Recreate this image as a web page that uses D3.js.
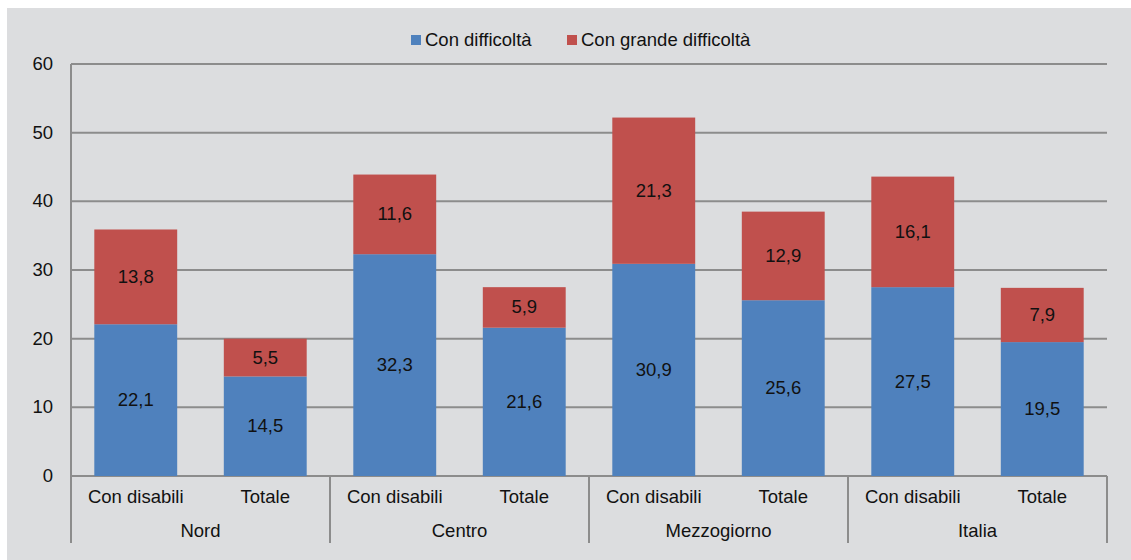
<!DOCTYPE html>
<html lang="it">
<head>
    <meta charset="UTF-8">
    <title>Difficoltà</title>
    <script src="https://d3js.org/d3.v7.min.js"></script>
    <style>
        body { margin: 0; padding: 0; background: #ffffff; }
        svg { display: block; font-family: 'Liberation Sans', Arial, sans-serif; }
    </style>
</head>
<body>
    <svg width="1131" height="560"></svg>
    <script>
        const groups = ["Nord", "Centro", "Mezzogiorno", "Italia"];
        const categories = ["Con disabili", "Totale"];
        const seriesNames = ["Con difficoltà", "Con grande difficoltà"];
        const conDifficolta = [22.1, 14.5, 32.3, 21.6, 30.9, 25.6, 27.5, 19.5];
        const conGrandeDifficolta = [13.8, 5.5, 11.6, 5.9, 21.3, 12.9, 16.1, 7.9];
        const yTicks = [0, 10, 20, 30, 40, 50, 60];
        const colors = ["#4f81bd", "#c0504d"];

        const svg = d3.select("svg");
        const plotLeft = 71, plotRight = 1107, plotTop = 64, plotBottom = 476;
        const gridColor = "#8c8c8c";
        const fs = 18.5;

        // panel background
        svg.append("rect")
           .attr("x", 7).attr("y", 8)
           .attr("width", 1124).attr("height", 552)
           .attr("fill", "#dcdddf");

        const rows = [];
        groups.forEach(function(g, gi) {
            categories.forEach(function(c, ci) {
                const i = gi * categories.length + ci;
                rows.push({ key: g + "|" + c, group: g, cat: c, a: conDifficolta[i], b: conGrandeDifficolta[i] });
            });
        });

        const x = d3.scaleBand()
                    .domain(rows.map(d => d.key))
                    .range([plotLeft, plotRight])
                    .paddingInner(0.36)
                    .paddingOuter(0.18);
        const xGroup = d3.scaleBand()
                    .domain(groups)
                    .range([plotLeft, plotRight]);
        const y = d3.scaleLinear().domain([0, 60]).range([plotBottom, plotTop]);

        // gridlines
        svg.selectAll(".grid")
           .data(yTicks)
           .enter()
           .append("line")
           .attr("x1", plotLeft).attr("x2", plotRight)
           .attr("y1", d => y(d)).attr("y2", d => y(d))
           .attr("stroke", gridColor)
           .attr("stroke-width", 2);

        // y labels
        svg.selectAll(".ylab")
           .data(yTicks)
           .enter()
           .append("text")
           .attr("x", 53)
           .attr("y", d => y(d) + 6)
           .attr("text-anchor", "end")
           .attr("font-size", fs)
           .attr("fill", "#111")
           .text(d => d);

        // stacked bars
        const stack = d3.stack().keys(["a", "b"])(rows);
        stack.forEach(function(layer, li) {
            svg.selectAll(".bar" + li)
               .data(layer)
               .enter()
               .append("rect")
               .attr("x", d => x(d.data.key))
               .attr("width", x.bandwidth())
               .attr("y", d => y(d[1]))
               .attr("height", d => y(d[0]) - y(d[1]))
               .attr("fill", colors[li]);

            svg.selectAll(".val" + li)
               .data(layer)
               .enter()
               .append("text")
               .attr("x", d => x(d.data.key) + x.bandwidth() / 2)
               .attr("y", d => (y(d[0]) + y(d[1])) / 2 + 6)
               .attr("text-anchor", "middle")
               .attr("font-size", fs)
               .attr("fill", "#111")
               .text(d => String(li === 0 ? d.data.a : d.data.b).replace(".", ","));
        });

        // axis line on left and group separators
        const seps = groups.map(g => xGroup(g)).concat([plotRight]);
        svg.selectAll(".sep")
           .data(seps)
           .enter()
           .append("line")
           .attr("x1", d => d).attr("x2", d => d)
           .attr("y1", (d, i) => i === 0 ? plotTop : plotBottom)
           .attr("y2", 543)
           .attr("stroke", gridColor)
           .attr("stroke-width", 2);

        // category labels
        svg.selectAll(".cat")
           .data(rows)
           .enter()
           .append("text")
           .attr("x", d => x(d.key) + x.bandwidth() / 2)
           .attr("y", 503)
           .attr("text-anchor", "middle")
           .attr("font-size", fs)
           .attr("fill", "#111")
           .text(d => d.cat);

        // group labels
        svg.selectAll(".grp")
           .data(groups)
           .enter()
           .append("text")
           .attr("x", d => xGroup(d) + xGroup.bandwidth() / 2)
           .attr("y", 537)
           .attr("text-anchor", "middle")
           .attr("font-size", fs)
           .attr("fill", "#111")
           .text(d => d);

        // legend
        const legendX = [411, 567];
        const legend = svg.selectAll(".leg")
           .data(seriesNames)
           .enter()
           .append("g")
           .attr("transform", (d, i) => "translate(" + legendX[i] + ",35)");
        legend.append("rect")
           .attr("width", 10).attr("height", 10)
           .attr("fill", (d, i) => colors[i]);
        legend.append("text")
           .attr("x", 14).attr("y", 11)
           .attr("font-size", fs)
           .attr("fill", "#111")
           .text(d => d);
    </script>
</body>
</html>
